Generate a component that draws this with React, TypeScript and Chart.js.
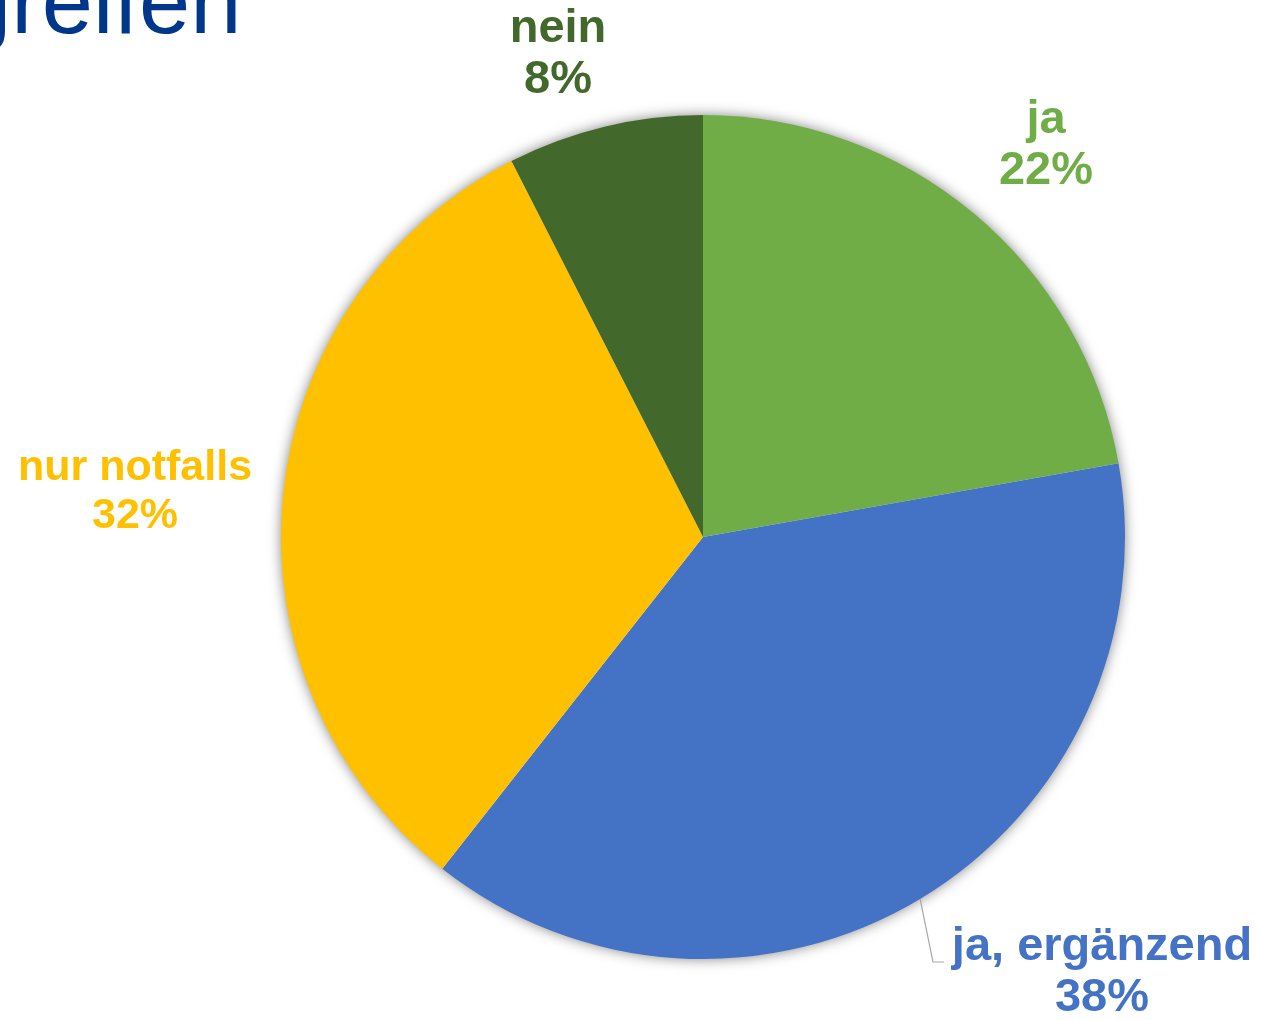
import React, { useEffect, useRef } from "react";
import { Chart, registerables } from "chart.js";

Chart.register(...registerables);

const categories = ["ja", "ja, ergänzend", "nur notfalls", "nein"];
const shares = [22.2, 38.4, 31.9, 7.5];
const sliceColors = ["#70AD47", "#4472C4", "#FFC000", "#43682B"];
const titleText = "greifen";

// label placement (style): center x, first baseline, font size, line gap
const labelLayout = [
  { x: 1046, y: 133, size: 47, gap: 51 },
  { x: 1102, y: 960, size: 47, gap: 51 },
  { x: 135, y: 480, size: 43, gap: 48 },
  { x: 558, y: 42, size: 47, gap: 51 },
];

const W = 1261;
const H = 1020;

const shadowPlugin = {
  id: "pieShadow",
  beforeDatasetsDraw(chart: any) {
    const meta = chart.getDatasetMeta(0);
    const arc = meta.data[0];
    if (!arc) return;
    const { x, y, outerRadius } = arc.getProps(["x", "y", "outerRadius"], true);
    const ctx = chart.ctx;
    ctx.save();
    ctx.shadowColor = "rgba(0,0,0,0.55)";
    ctx.shadowBlur = 14;
    ctx.shadowOffsetX = 0;
    ctx.shadowOffsetY = 0;
    ctx.fillStyle = "#ffffff";
    ctx.beginPath();
    ctx.arc(x, y, outerRadius - 1, 0, Math.PI * 2);
    ctx.fill();
    ctx.restore();
  },
};

const labelPlugin = {
  id: "pieLabels",
  afterDatasetsDraw(chart: any) {
    const ctx = chart.ctx;
    const meta = chart.getDatasetMeta(0);
    const data = chart.data.datasets[0].data as number[];
    const total = data.reduce((a: number, b: number) => a + b, 0);
    ctx.save();
    // title
    ctx.font = '92px "Liberation Sans", Arial, sans-serif';
    ctx.fillStyle = "#00378A";
    ctx.textAlign = "left";
    ctx.textBaseline = "alphabetic";
    ctx.fillText(titleText, -40, 33);

    // leader line for blue slice
    const a1 = meta.data[1];
    if (a1) {
      const p = a1.getProps(["x", "y", "startAngle", "endAngle", "outerRadius"], true);
      const mid = (p.startAngle + p.endAngle) / 2;
      const sx = p.x + Math.cos(mid) * p.outerRadius;
      const sy = p.y + Math.sin(mid) * p.outerRadius;
      ctx.strokeStyle = "#A6A6A6";
      ctx.lineWidth = 1.2;
      ctx.beginPath();
      ctx.moveTo(sx, sy);
      ctx.lineTo(933, 962);
      ctx.lineTo(944, 962);
      ctx.stroke();
    }

    chart.data.labels.forEach((lab: string, i: number) => {
      const L = labelLayout[i];
      const pct = Math.round((data[i] / total) * 100) + "%";
      ctx.fillStyle = sliceColors[i];
      ctx.font = `bold ${L.size}px "Liberation Sans", Arial, sans-serif`;
      ctx.textAlign = "center";
      ctx.textBaseline = "alphabetic";
      ctx.fillText(lab, L.x, L.y);
      ctx.fillText(pct, L.x, L.y + L.gap);
    });
    ctx.restore();
  },
};

export default function App() {
  const ref = useRef<HTMLCanvasElement | null>(null);
  useEffect(() => {
    if (!ref.current) return;
    const chart = new Chart(ref.current, {
      type: "pie",
      data: {
        labels: categories,
        datasets: [
          {
            data: shares,
            backgroundColor: sliceColors,
            borderWidth: 0,
          },
        ],
      },
      options: {
        responsive: false,
        animation: false,
        layout: { padding: { top: 115, bottom: 61, left: 281, right: 136 } },
        plugins: {
          legend: { display: false },
          tooltip: { enabled: false },
        },
      },
      plugins: [shadowPlugin, labelPlugin],
    });
    return () => chart.destroy();
  }, []);
  return (
    <div style={{ position: "fixed", left: 0, top: 0, width: W, height: H, background: "#fff" }}>
      <canvas ref={ref} width={W} height={H} style={{ width: W, height: H, display: "block" }} />
    </div>
  );
}
